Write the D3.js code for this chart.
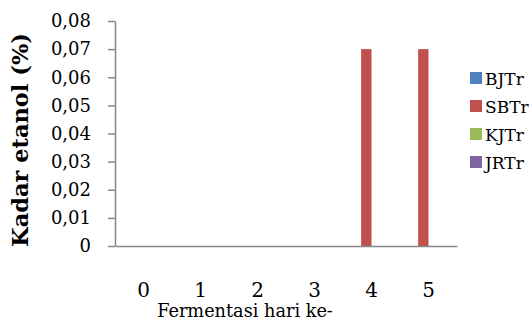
<!DOCTYPE html>
<html>
<head>
<meta charset="utf-8">
<script src="https://cdn.jsdelivr.net/npm/d3@7"></script>
<style>
  html, body { margin: 0; padding: 0; background: #fff; }
  svg { display: block; font-family: "DejaVu Serif", serif; }
</style>
</head>
<body>
<svg id="chart" width="531" height="322"></svg>
<script>
// Fermentation days and ethanol content per treatment
const days = ["0", "1", "2", "3", "4", "5"];
const seriesNames = ["BJTr", "SBTr", "KJTr", "JRTr"];
const BJTr = [0, 0, 0, 0, 0, 0];
const SBTr = [0, 0, 0, 0, 0.07, 0.07];
const KJTr = [0, 0, 0, 0, 0, 0];
const JRTr = [0, 0, 0, 0, 0, 0];
const yTicks = [0, 0.01, 0.02, 0.03, 0.04, 0.05, 0.06, 0.07, 0.08];
const colors = ["#4F81BD", "#C0504D", "#9BBB59", "#8064A2"];
const yTitle = "Kadar etanol (%)";
const xTitle = "Fermentasi hari ke-";

const values = { BJTr, SBTr, KJTr, JRTr };

const svg = d3.select("#chart");
const plot = { left: 115, right: 457, top: 21, bottom: 246 };
const axisColor = "#878787";

const x0 = d3.scaleBand().domain(days).range([plot.left, plot.right]).paddingInner(0).paddingOuter(0);
// clustered bars with a 150% gap between groups
const x1 = d3.scaleBand().domain(seriesNames).range([0, x0.bandwidth()]).paddingInner(0).paddingOuter(0.75);
const y = d3.scaleLinear().domain([0, 0.08]).range([plot.bottom, plot.top]);
const color = d3.scaleOrdinal().domain(seriesNames).range(colors);

const locale = d3.formatLocale({ decimal: ",", thousands: ".", grouping: [3], currency: ["", ""] });
const fmt = v => v === 0 ? "0" : locale.format(".2f")(v);

// Bars
const rows = seriesNames.flatMap(s => days.map((d, i) => ({ s, d, v: values[s][i] })));
svg.append("g")
  .selectAll("rect")
  .data(rows.filter(r => r.v > 0))
  .join("rect")
  .attr("x", r => x0(r.d) + x1(r.s))
  .attr("y", r => y(r.v))
  .attr("width", x1.bandwidth())
  .attr("height", r => y(0) - y(r.v))
  .attr("fill", r => color(r.s));

// Y axis
const yAxis = svg.append("g")
  .attr("transform", `translate(${plot.left},0)`)
  .call(d3.axisLeft(y).tickValues(yTicks).tickFormat(fmt).tickSize(7).tickSizeOuter(0).tickPadding(17));
yAxis.select(".domain").attr("stroke", axisColor).attr("stroke-width", 1.5);
yAxis.selectAll(".tick line").attr("stroke", axisColor).attr("stroke-width", 1.5);
yAxis.selectAll(".tick text")
  .attr("font-family", "DejaVu Serif, serif")
  .attr("font-size", 18)
  .attr("fill", "#000");

// X axis
const xAxis = svg.append("g")
  .attr("transform", `translate(0,${plot.bottom})`)
  .call(d3.axisBottom(x0).tickSize(0).tickPadding(37));
xAxis.select(".domain").attr("stroke", axisColor).attr("stroke-width", 1.5);
xAxis.selectAll(".tick text")
  .attr("font-family", "DejaVu Serif, serif")
  .attr("font-size", 20)
  .attr("fill", "#000");

// Axis titles
svg.append("text")
  .attr("transform", `translate(28,140) rotate(-90)`)
  .attr("text-anchor", "middle")
  .attr("font-weight", "bold")
  .attr("font-size", 22.5)
  .text(yTitle);

svg.append("text")
  .attr("x", 245)
  .attr("y", 317)
  .attr("text-anchor", "middle")
  .attr("font-size", 17.7)
  .text(xTitle);

// Legend
const legend = svg.append("g").attr("transform", "translate(470,78)");
const item = legend.selectAll("g")
  .data(seriesNames)
  .join("g")
  .attr("transform", (d, i) => `translate(0,${i * 28})`);
item.append("rect")
  .attr("x", 0).attr("y", -6)
  .attr("width", 12).attr("height", 12)
  .attr("fill", d => color(d));
item.append("text")
  .attr("x", 15).attr("y", 6.5)
  .attr("font-size", 17)
  .text(d => d);
</script>
</body>
</html>
